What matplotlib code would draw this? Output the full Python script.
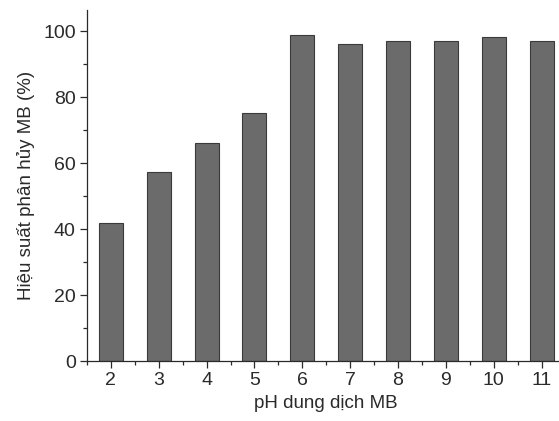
import matplotlib
matplotlib.use("Agg")
import matplotlib.pyplot as plt
from matplotlib.ticker import MultipleLocator

# Degradation efficiency of MB vs. solution pH
ph = [2, 3, 4, 5, 6, 7, 8, 9, 10, 11]
efficiency = [41.7, 57.3, 66.1, 75.2, 98.8, 96.2, 97.0, 96.9, 98.1, 97.0]

plt.rcParams["font.family"] = ["Liberation Sans", "DejaVu Sans"]
ink = "#2a2a2a"

fig = plt.figure(figsize=(5.59, 4.21), dpi=100)
ax = fig.add_axes([0.1556, 0.1425, 0.856, 0.834])

ax.bar(ph, efficiency, width=0.5, color="#6b6b6b", edgecolor="#3a3a3a", linewidth=0.8)

ax.set_xlim(1.5, 11.5)
ax.set_ylim(0, 106.4)
ax.xaxis.set_major_locator(MultipleLocator(1))
ax.xaxis.set_minor_locator(MultipleLocator(0.5))
ax.yaxis.set_major_locator(MultipleLocator(20))
ax.yaxis.set_minor_locator(MultipleLocator(10))

for side in ("top", "right"):
    ax.spines[side].set_visible(False)
for side in ("left", "bottom"):
    ax.spines[side].set_color(ink)
    ax.spines[side].set_linewidth(0.9)

ax.tick_params(which="major", direction="out", length=5, width=0.9, color=ink,
               labelsize=14, labelcolor=ink, pad=3)
ax.tick_params(which="minor", direction="out", length=3, width=0.9, color=ink)

ax.set_xlabel("pH dung dịch MB", fontsize=13.5, color=ink, labelpad=4)
ax.set_ylabel("Hiệu suất phân hủy MB (%)", fontsize=13.5, color=ink, labelpad=6)

fig.savefig("out.png", dpi=100)
